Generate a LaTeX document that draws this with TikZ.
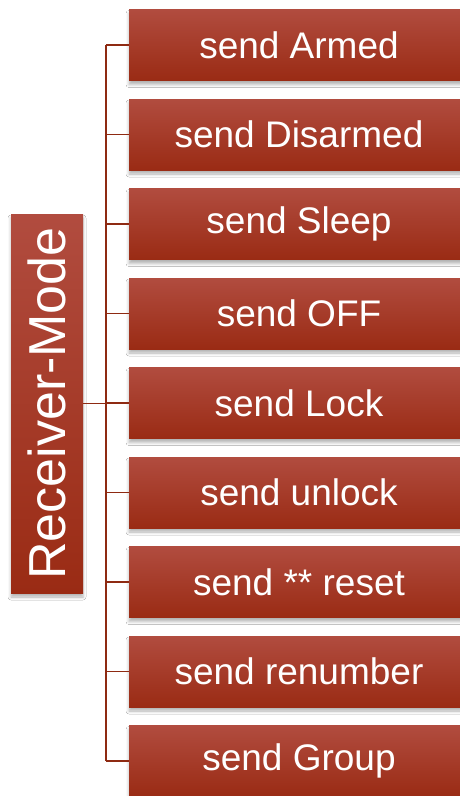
\documentclass[tikz,border=0pt]{standalone}
\usepackage{fontspec}
\setmainfont{Liberation Sans}
\usetikzlibrary{shadows.blur}
\definecolor{boxtop}{RGB}{177,76,63}
\definecolor{boxbot}{RGB}{154,43,20}
\definecolor{linkcol}{RGB}{142,42,18}
\begin{document}
\begin{tikzpicture}[x=1pt,y=-1pt,
  boxstyle/.style={rectangle, inner sep=0pt, top color=boxtop, bottom color=boxbot, draw=none,
    text=white, blur shadow={shadow xshift=0pt, shadow yshift=-4pt, shadow blur radius=3pt, shadow opacity=30}},
  itembox/.style={boxstyle, minimum width=340pt, minimum height=71pt, font=\fontsize{37}{40}\selectfont},
  rootbox/.style={boxstyle, minimum width=72pt, minimum height=379pt, font=\fontsize{52}{56}\selectfont},
  link/.style={draw=linkcol, line width=1.8pt}]
\clip (0,0) rectangle (460,796);
\fill[white] (0,0) rectangle (460,796);
\node[rootbox] (root) at (47,403.5) {\rotatebox{90}{Receiver-Mode}};
\node[itembox] (b1) at (299,45) {send Armed};
\node[itembox] (b2) at (299,134.5) {send Disarmed};
\node[itembox] (b3) at (299,224) {send Sleep};
\node[itembox] (b4) at (299,313.5) {send OFF};
\node[itembox] (b5) at (299,403) {send Lock};
\node[itembox] (b6) at (299,492.5) {send unlock};
\node[itembox] (b7) at (299,582) {send ** reset};
\node[itembox] (b8) at (299,671.5) {send renumber};
\node[itembox] (b9) at (299,761) {send Group};
\coordinate (trunk top) at (106,45);
\coordinate (trunk bot) at (106,761);
\coordinate (trunk mid) at (106,403.5);
\draw[link] (trunk top) -- (trunk bot);
\draw[link] (root.east) -- (trunk mid);
\foreach \i in {1,...,9}{
  \draw[link] (b\i.west) -- (b\i.west -| trunk top);
}
\end{tikzpicture}
\end{document}
